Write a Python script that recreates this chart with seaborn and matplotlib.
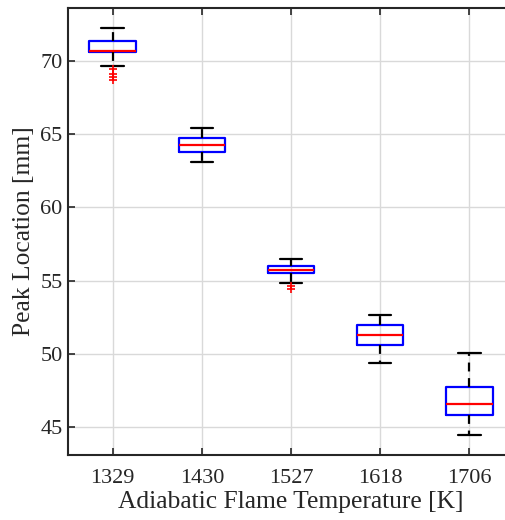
import numpy as np
import pandas as pd
import seaborn as sns
import matplotlib.pyplot as plt

# Temperatures (categories) and box statistics
temperaturas = ['1329', '1430', '1527', '1618', '1706']
minimo = [69.66, 63.08, 54.86, 49.36, 44.45]
q1 = [70.60, 63.78, 55.52, 50.59, 45.84]
mediana = [70.68, 64.24, 55.72, 51.27, 46.57]
q3 = [71.32, 64.72, 55.97, 51.98, 47.71]
maximo = [72.25, 65.44, 56.45, 52.68, 50.06]

# Outliers (red +)
outlier_temp = ['1329', '1329', '1329', '1329', '1527', '1527']
outlier_valor = [69.45, 69.10, 68.90, 68.70, 54.60, 54.40]

linhas = []
for i, t in enumerate(temperaturas):
    for v in (minimo[i], q1[i], mediana[i], q3[i], maximo[i]):
        linhas.append({'Temperatura': t, 'Pico': v})
dados = pd.DataFrame(linhas)
outliers = pd.DataFrame({'Temperatura': outlier_temp, 'Pico': outlier_valor})

sns.set_theme(style="white")
plt.rcParams['font.family'] = ['Liberation Serif', 'DejaVu Serif']

fig = plt.figure(figsize=(5.06, 5.2), dpi=100)
ax = fig.add_axes([68 / 506, 1 - 455 / 520, 446 / 506, 447 / 520])

sns.boxplot(x='Temperatura', y='Pico', data=dados, order=temperaturas, ax=ax,
            whis=np.inf, width=0.52, fill=False, showfliers=False,
            boxprops={'color': 'blue', 'linewidth': 1.6},
            medianprops={'color': 'red', 'linewidth': 1.6},
            whiskerprops={'color': 'black', 'linewidth': 1.6, 'linestyle': (0, (4, 3))},
            capprops={'color': 'black', 'linewidth': 1.6},
            capwidths=0.25, zorder=3)

sns.stripplot(x='Temperatura', y='Pico', data=outliers, order=temperaturas, ax=ax,
              jitter=False, marker='+', color='red', s=6, linewidth=1.2, zorder=4)

ax.set_xlim(-0.5, 4.5)
ax.set_ylim(43.1, 73.6)
ax.set_yticks([45, 50, 55, 60, 65, 70])
ax.grid(True, color='0.85', linewidth=1.0)
ax.set_axisbelow(True)

for lado in ax.spines.values():
    lado.set_color('0.15')
    lado.set_linewidth(1.5)
ax.tick_params(direction='in', length=5, width=1.2, color='0.15',
               labelsize=16, labelcolor='0.15', top=True, right=True,
               bottom=True, left=True)
ax.tick_params(axis='x', pad=10)
ax.tick_params(axis='y', pad=4)

ax.set_xlabel('Adiabatic Flame Temperature [K]', fontsize=18.4, color='0.15', labelpad=2)
ax.set_ylabel('Peak Location [mm]', fontsize=18.4, color='0.15', labelpad=4)

plt.savefig('out.png', dpi=100)
